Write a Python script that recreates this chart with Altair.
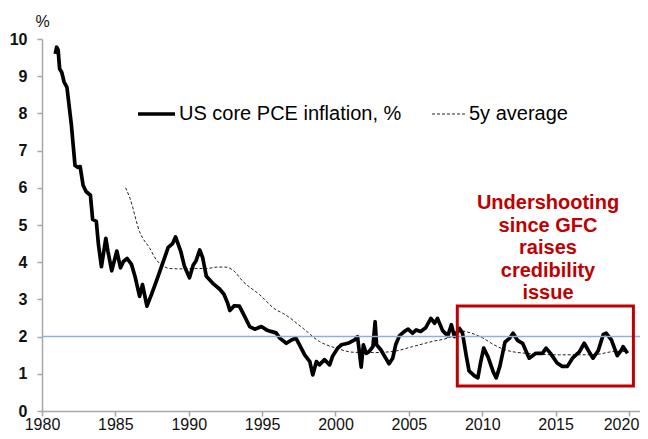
import altair as alt
import pandas as pd

# US core PCE inflation (% y/y)
pce_year = [1980.9, 1981.0, 1981.1, 1981.2, 1981.35, 1981.5, 1981.7, 1982.0, 1982.25, 1982.45,
            1982.6, 1982.8, 1983.0, 1983.3, 1983.45, 1983.7, 1983.85, 1984.05, 1984.35, 1984.5,
            1984.75, 1985.1, 1985.35, 1985.55, 1985.8, 1986.1, 1986.35, 1986.65, 1986.85, 1987.15,
            1987.45, 1987.8, 1988.25, 1988.6, 1988.9, 1989.1, 1989.45, 1989.7, 1990.05, 1990.3,
            1990.5, 1990.75, 1990.95, 1991.2, 1991.7, 1992.1, 1992.4, 1992.65, 1992.8, 1993.1,
            1993.45, 1993.8, 1994.15, 1994.5, 1994.95, 1995.3, 1995.6, 1995.95, 1996.2, 1996.65,
            1997.0, 1997.3, 1997.55, 1997.9, 1998.25, 1998.45, 1998.7, 1998.9, 1999.25, 1999.6,
            1999.8, 2000.15, 2000.4, 2000.85, 2001.3, 2001.5, 2001.75, 2001.9, 2002.1, 2002.3,
            2002.55, 2002.7, 2002.8, 2003.1, 2003.35, 2003.65, 2003.9, 2004.1, 2004.35, 2004.7,
            2004.95, 2005.25, 2005.5, 2005.8, 2006.15, 2006.5, 2006.75, 2006.95, 2007.3, 2007.65,
            2007.9, 2008.1, 2008.45, 2008.65, 2008.9, 2009.1, 2009.45, 2009.7, 2009.9, 2010.1,
            2010.4, 2010.75, 2010.95, 2011.2, 2011.55, 2011.85, 2012.1, 2012.4, 2012.75, 2013.2,
            2013.65, 2014.1, 2014.35, 2014.65, 2015.1, 2015.45, 2015.8, 2016.15, 2016.6, 2016.95,
            2017.3, 2017.55, 2017.9, 2018.25, 2018.45, 2018.8, 2019.2, 2019.5, 2019.6, 2019.9]
pce_value = [9.6, 9.78, 9.7, 9.2, 9.1, 8.85, 8.7, 7.7, 6.6, 6.55,
             6.57, 6.07, 5.9, 5.8, 5.15, 5.1, 4.46, 3.88, 4.64, 4.28,
             3.77, 4.3, 3.85, 4.02, 4.1, 3.94, 3.6, 3.08, 3.4, 2.82,
             3.12, 3.5, 4.0, 4.4, 4.5, 4.68, 4.3, 3.9, 3.58, 3.92,
             4.04, 4.33, 4.12, 3.62, 3.41, 3.28, 3.14, 2.9, 2.7, 2.83,
             2.82, 2.55, 2.27, 2.2, 2.27, 2.18, 2.14, 2.1, 1.96, 1.82,
             1.91, 1.96, 1.78, 1.51, 1.33, 0.97, 1.33, 1.24, 1.38, 1.24,
             1.47, 1.69, 1.78, 1.82, 1.91, 2.0, 1.18, 1.78, 1.55, 1.6,
             1.73, 2.4, 1.78, 1.64, 1.47, 1.27, 1.42, 1.78, 2.02, 2.14,
             2.2, 2.09, 2.18, 2.14, 2.24, 2.49, 2.36, 2.49, 2.16, 2.02,
             2.32, 2.0, 2.22, 2.1, 1.51, 1.08, 0.95, 0.89, 1.33, 1.69,
             1.45, 1.05, 0.89, 1.2, 1.85, 1.95, 2.09, 1.9, 1.82, 1.42,
             1.55, 1.55, 1.69, 1.55, 1.29, 1.2, 1.2, 1.42, 1.58, 1.82,
             1.58, 1.42, 1.62, 2.06, 2.09, 1.91, 1.49, 1.65, 1.73, 1.55]

# 5-year average
avg_year = [1985.7, 1986.0, 1986.65, 1987.35, 1987.8, 1988.25, 1988.7, 1989.6, 1990.75, 1991.2,
            1992.0, 1992.45, 1993.0, 1993.7, 1994.85, 1995.95, 1996.4, 1997.8, 1998.9, 2000.05,
            2001.2, 2002.55, 2003.9, 2005.25, 2006.6, 2007.65, 2008.2, 2008.6, 2009.2, 2010.0,
            2010.8, 2011.6, 2013.0, 2015.25, 2017.5, 2019.1, 2019.9]
avg_value = [6.0, 5.71, 4.82, 4.37, 4.06, 3.9, 3.83, 3.82, 3.83, 3.83,
             3.87, 3.87, 3.79, 3.48, 3.12, 2.72, 2.63, 2.22, 1.87, 1.69,
             1.58, 1.57, 1.6, 1.73, 1.87, 1.96, 2.05, 2.15, 2.1, 1.97,
             1.78, 1.64, 1.55, 1.51, 1.51, 1.6, 1.6]

target = [2.0]
box_x = [2008.3]
box_x2 = [2020.3]
box_y = [0.67]
box_y2 = [2.82]

x_ticks = [1980, 1985, 1990, 1995, 2000, 2005, 2010, 2015, 2020]
y_ticks = list(range(0, 11))
legend_labels = ["US core PCE inflation, %", "5y average"]
note = "Undershooting\nsince GFC\nraises\ncredibility\nissue"

W, H = 598, 372
RED = "#C00000"

pce = pd.DataFrame({"year": pce_year, "value": pce_value})
avg = pd.DataFrame({"year": avg_year, "value": avg_value})
tgt = pd.DataFrame({"value": target})
box = pd.DataFrame({"x": box_x, "x2": box_x2, "y": box_y, "y2": box_y2})
one = pd.DataFrame({"a": [0]})

xscale = alt.Scale(domain=[1980, 2020.75], nice=False, zero=False)
yscale = alt.Scale(domain=[0, 10], nice=False)

xaxis = alt.Axis(values=x_ticks, format="d", title=None, grid=False,
                 labelFont="Liberation Sans", labelFontSize=16, labelColor="#111111",
                 labelPadding=0, tickSize=5, labelFlush=False, labelOverlap=False,
                 labelOffset={"condition": {"test": "datum.value >= 2019", "value": -8},
                              "value": 0})
yaxis = alt.Axis(values=y_ticks, title="%", grid=False, titleAngle=0,
                 titleX=0, titleY=-18, titleAlign="center", titleBaseline="middle",
                 titleFont="Liberation Sans", titleFontSize=16, titleFontWeight="normal",
                 titleColor="#111111", labelOverlap=False,
                 labelFont="Liberation Sans", labelFontSize=16, labelFontWeight="bold",
                 labelColor="#111111", labelPadding=10, tickSize=5)

avg_line = alt.Chart(avg).mark_line(color="#222222", strokeWidth=1, strokeDash=[3, 2],
                                    interpolate="monotone").encode(
    x=alt.X("year:Q", scale=xscale, axis=xaxis),
    y=alt.Y("value:Q", scale=yscale, axis=yaxis),
)

pce_line = alt.Chart(pce).mark_line(color="#000000", strokeWidth=3.7,
                                    strokeJoin="round").encode(
    x=alt.X("year:Q", scale=xscale, axis=xaxis),
    y=alt.Y("value:Q", scale=yscale, axis=yaxis),
)

tgt_rule = alt.Chart(tgt).mark_rule(color="#8EB0DE", strokeWidth=1.5).encode(
    y=alt.Y("value:Q", scale=yscale, axis=yaxis),
    x=alt.value(0),
    x2=alt.value(W),
)

box_rect = alt.Chart(box).mark_rect(filled=False, stroke=RED, strokeWidth=3).encode(
    x=alt.X("x:Q", scale=xscale, axis=xaxis),
    x2="x2:Q",
    y=alt.Y("y:Q", scale=yscale, axis=yaxis),
    y2="y2:Q",
)

leg_solid = alt.Chart(one).mark_rule(color="#000000", strokeWidth=3.5).encode(
    x=alt.value(96), x2=alt.value(133), y=alt.value(75))
leg_solid_t = alt.Chart(one).mark_text(text=legend_labels[0], align="left", baseline="middle",
                                       font="Liberation Sans", fontSize=20,
                                       color="#000000").encode(
    x=alt.value(137), y=alt.value(75))
leg_dash = alt.Chart(one).mark_rule(color="#222222", strokeWidth=1, strokeDash=[3, 2]).encode(
    x=alt.value(390), x2=alt.value(425), y=alt.value(75))
leg_dash_t = alt.Chart(one).mark_text(text=legend_labels[1], align="left", baseline="middle",
                                      font="Liberation Sans", fontSize=20,
                                      color="#000000").encode(
    x=alt.value(427), y=alt.value(75))

note_t = alt.Chart(one).mark_text(text=note, lineBreak="\n", align="center", baseline="middle",
                                  font="Liberation Sans", fontSize=20, fontWeight="bold",
                                  lineHeight=22.5, color=RED).encode(
    x=alt.value(506), y=alt.value(164))

chart = alt.layer(avg_line, pce_line, tgt_rule, box_rect,
                  leg_solid, leg_solid_t, leg_dash, leg_dash_t, note_t).properties(
    width=W, height=H,
    autosize=alt.AutoSizeParams(type="none"),
    padding={"left": 34, "top": 31, "right": 0, "bottom": 20},
    background="#ffffff",
).configure_view(stroke=None).configure_axis(
    domainColor="#a6a6a6", tickColor="#a6a6a6", domainWidth=1.5, tickWidth=1.5,
)

chart.save("out.html", embed_options={"renderer": "svg", "actions": False})
